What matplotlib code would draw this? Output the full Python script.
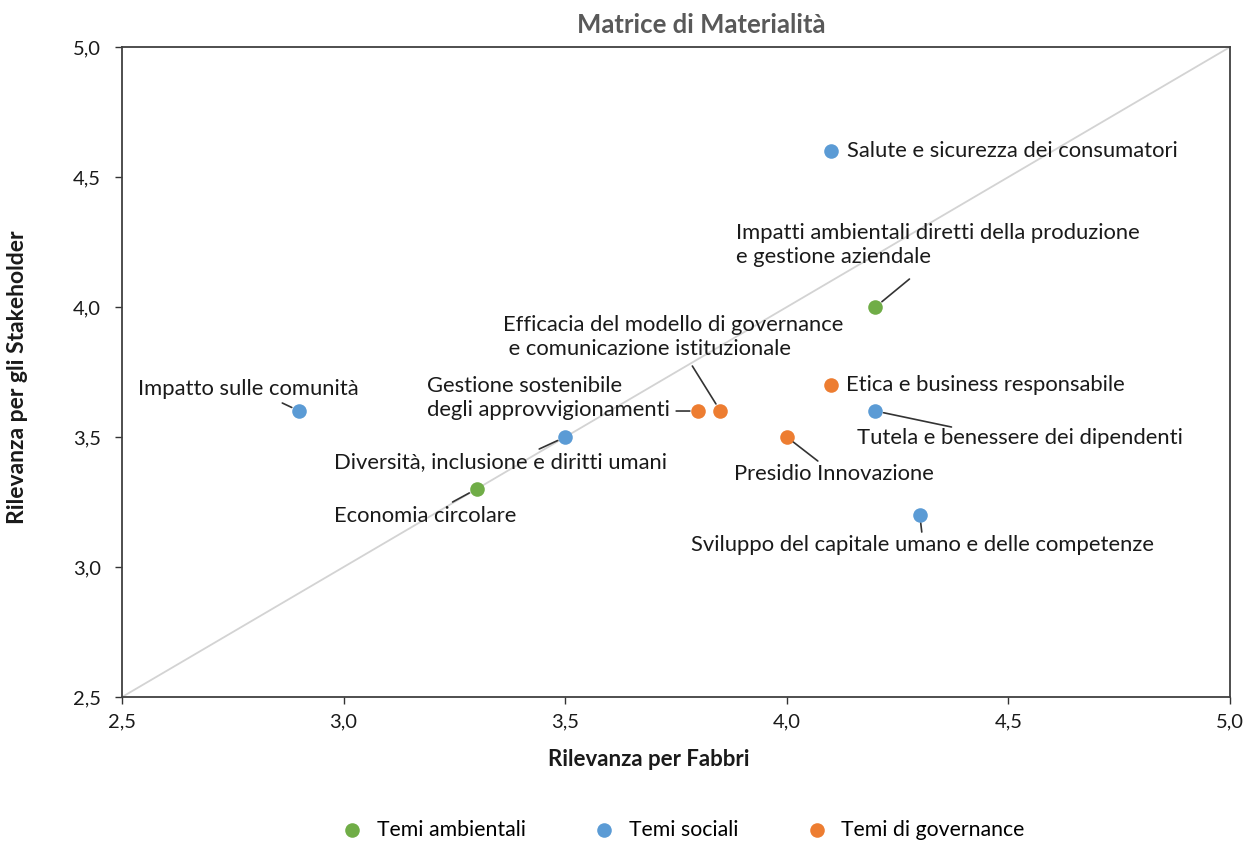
import matplotlib
matplotlib.use("Agg")
import matplotlib.pyplot as plt
from matplotlib.ticker import FuncFormatter, MultipleLocator

plt.rcParams['font.family'] = ['Lato', 'DejaVu Sans']

# temi: nome, rilevanza per Fabbri (x), rilevanza per stakeholder (y), gruppo
temi = ["Salute e sicurezza dei consumatori",
        "Impatti ambientali diretti della produzione\ne gestione aziendale",
        "Etica e business responsabile",
        "Tutela e benessere dei dipendenti",
        "Presidio Innovazione",
        "Sviluppo del capitale umano e delle competenze",
        "Gestione sostenibile\ndegli approvvigionamenti",
        "Efficacia del modello di governance\n e comunicazione istituzionale",
        "Impatto sulle comunità",
        "Diversità, inclusione e diritti umani",
        "Economia circolare"]
rilevanza_fabbri = [4.1, 4.2, 4.1, 4.2, 4.0, 4.3, 3.8, 3.85, 2.9, 3.5, 3.3]
rilevanza_stakeholder = [4.6, 4.0, 3.7, 3.6, 3.5, 3.2, 3.6, 3.6, 3.6, 3.5, 3.3]
gruppo = ["soc", "amb", "gov", "soc", "gov", "soc", "gov", "gov", "soc", "soc", "amb"]

gruppi = ["amb", "soc", "gov"]
nomi_gruppi = ["Temi ambientali", "Temi sociali", "Temi di governance"]
colori = {"amb": "#70AD47", "soc": "#5B9BD5", "gov": "#ED7D31"}

# posizione etichette (offset in pixel dal punto), allineamento, fine della linea guida
label_pos = [(16, 0, 'left', None),
             (-139, 62, 'left', (34, 28)),
             (15, 0, 'left', None),
             (-18, -27, 'left', (76, -16)),
             (-53, -37, 'left', (31, -24)),
             (3, -30, 'center', (2, -17)),
             (-271, 13, 'left', (-22, 0)),
             (-217, 74, 'left', (-28, 45)),
             (-161, 22, 'left', (-17, 8)),
             (-231, -25, 'left', (-26, -12)),
             (-143, -27, 'left', (-24, -13))]

fig = plt.figure(figsize=(12.49, 8.41), dpi=100)
ax = fig.add_axes([0.0977, 0.1712, 0.8871, 0.7729])

ax.plot([2.5, 5.0], [2.5, 5.0], color="#D3D3D3", lw=1.3, zorder=1)

for g, nome in zip(gruppi, nomi_gruppi):
    xs = [x for x, gg in zip(rilevanza_fabbri, gruppo) if gg == g]
    ys = [y for y, gg in zip(rilevanza_stakeholder, gruppo) if gg == g]
    ax.scatter(xs, ys, s=110, color=colori[g], label=nome, zorder=3, linewidths=0)

for t, x, y, (dx, dy, ha, lead) in zip(temi, rilevanza_fabbri, rilevanza_stakeholder, label_pos):
    ax.annotate(t, xy=(x, y), xytext=(dx, dy), textcoords='offset pixels',
                ha=ha, va='center', fontsize=15.8, color="#1a1a1a", linespacing=1.2)
    if lead is not None:
        ax.annotate('', xy=(x, y), xytext=lead, textcoords='offset pixels',
                    arrowprops=dict(arrowstyle='-', color="#333333", lw=1.2,
                                    shrinkA=0, shrinkB=6))

ax.set_xlim(2.5, 5.0)
ax.set_ylim(2.5, 5.0)
ax.xaxis.set_major_locator(MultipleLocator(0.5))
ax.yaxis.set_major_locator(MultipleLocator(0.5))
fmt = FuncFormatter(lambda v, p: ("%.1f" % v).replace('.', ','))
ax.xaxis.set_major_formatter(fmt)
ax.yaxis.set_major_formatter(fmt)
ax.tick_params(labelsize=14.5, length=5, width=1, colors="#333333", labelcolor="#1a1a1a")
ax.tick_params(axis='y', pad=10)
ax.tick_params(axis='x', pad=7)
for sp in ax.spines.values():
    sp.set_color("#404040")
    sp.set_linewidth(1.3)

fig.text(649 / 1249, 1 - 760 / 841, "Rilevanza per Fabbri", fontsize=16, fontweight='bold',
         ha='center', va='center', color="#1a1a1a")
fig.text(18 / 1249, 1 - 377 / 841, "Rilevanza per gli Stakeholder", fontsize=16.5,
         fontweight='bold', rotation=90, ha='center', va='center', color="#1a1a1a")
fig.text(701 / 1249, 1 - 25 / 841, "Matrice di Materialità", fontsize=18.5,
         fontweight='bold', color="#595959", ha='center', va='center')

fig.legend(loc='center', bbox_to_anchor=(682 / 1249, 1 - 830 / 841), ncol=3, frameon=False,
           fontsize=15.3, columnspacing=3.1, handletextpad=0.55, handlelength=1.2)

fig.savefig("out.png", dpi=100)
